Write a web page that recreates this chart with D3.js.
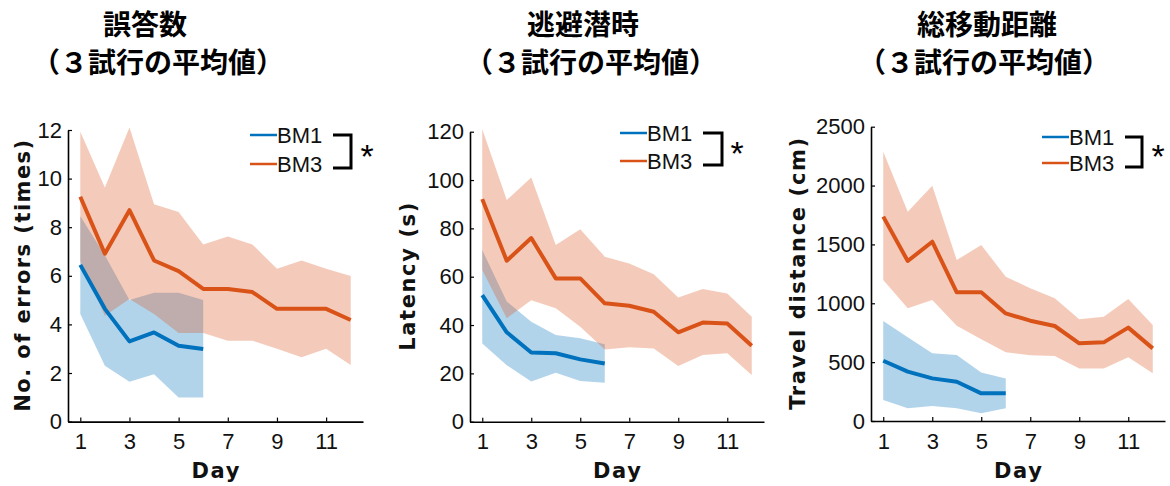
<!DOCTYPE html>
<html><head><meta charset="utf-8">
<script src="https://cdn.jsdelivr.net/npm/d3@7"></script>
<style>
html,body{margin:0;padding:0;background:#fff;}
svg{display:block;}
</style></head>
<body>
<svg id="chart" width="1170" height="486"></svg>
<script>
const days = [1,2,3,4,5,6,7,8,9,10,11,12];
const xTicks = [1,3,5,7,9,11];
const seriesNames = ["BM1","BM3"];
const titles1 = ["誤答数","逃避潜時","総移動距離"];
const titles2 = ["（３試行の平均値）","（３試行の平均値）","（３試行の平均値）"];
const yLabels = ["No. of errors (times)","Latency (s)","Travel distance (cm)"];
const xLabel = "Day";

// Panel 1: errors
const errTicks = [0,2,4,6,8,10,12];
const errBM1Mean  = [6.45,4.64,3.30,3.67,3.12,2.99];
const errBM1Upper = [8.45,6.85,5.00,5.30,5.30,5.00];
const errBM1Lower = [4.43,2.30,1.64,1.95,0.99,0.99];
const errBM3Mean  = [9.25,6.91,8.70,6.63,6.19,5.46,5.46,5.33,4.64,4.64,4.64,4.18];
const errBM3Upper = [11.93,9.63,12.10,8.94,8.63,7.29,7.62,7.29,6.29,6.63,6.29,5.99];
const errBM3Lower = [6.60,4.36,5.05,4.43,3.65,3.65,3.33,3.33,3.00,2.65,3.00,2.33];

// Panel 2: latency
const latTicks = [0,20,40,60,80,100,120];
const latBM1Mean  = [52.4,37.0,28.6,28.3,25.8,24.1];
const latBM1Upper = [71.0,49.7,41.4,35.9,34.5,32.1];
const latBM1Lower = [32.4,23.4,16.6,20.3,16.8,16.1];
const latBM3Mean  = [92.1,66.6,76.0,59.3,59.3,49.0,48.0,45.5,37.0,41.0,40.6,31.4];
const latBM3Upper = [121.0,91.7,101.0,73.1,79.6,68.3,65.5,61.0,51.4,54.9,53.1,43.4];
const latBM3Lower = [62.8,42.8,50.3,46.9,39.3,29.9,30.8,30.3,23.0,27.6,28.3,19.3];

// Panel 3: travel distance
const disTicks = [0,500,1000,1500,2000,2500];
const disBM1Mean  = [512,419,362,334,235,235];
const disBM1Upper = [849,711,575,561,411,362];
const disBM1Lower = [178,108,127,108,65,108];
const disBM3Mean  = [1736,1359,1523,1093,1093,914,852,807,660,668,793,617];
const disBM3Upper = [2288,1778,1999,1367,1495,1226,1127,1042,864,886,1036,815];
const disBM3Lower = [1198,957,1028,810,694,583,558,552,447,447,541,405];

const blue = "#0072BD", orange = "#D95319";

const panels = [
  {left:68, right:363, top:130, bottom:421.6, ymax:12, ticks:errTicks,
   m1:errBM1Mean,u1:errBM1Upper,l1:errBM1Lower,m3:errBM3Mean,u3:errBM3Upper,l3:errBM3Lower,
   t1x:145, t2x:158, ylx:30, legX:250, legY1:135, legY2:164, brX:333, brR:351, astX:367},
  {left:470, right:764, top:131.7, bottom:421.7, ymax:120, ticks:latTicks,
   m1:latBM1Mean,u1:latBM1Upper,l1:latBM1Lower,m3:latBM3Mean,u3:latBM3Upper,l3:latBM3Lower,
   t1x:583, t2x:591, ylx:415, legX:620, legY1:133, legY2:161, brX:703, brR:722, astX:737},
  {left:871, right:1165, top:126.7, bottom:421, ymax:2500, ticks:disTicks,
   m1:disBM1Mean,u1:disBM1Upper,l1:disBM1Lower,m3:disBM3Mean,u3:disBM3Upper,l3:disBM3Lower,
   t1x:987, t2x:984, ylx:805, legX:1042, legY1:137, legY2:163, brX:1125, brR:1142, astX:1158}
];

const svg = d3.select("#chart");
const tickFont = "'Liberation Sans', Arial, sans-serif";
const labFont = "'DejaVu Sans', sans-serif";
const cjk = "'Noto Sans CJK JP', 'Noto Sans CJK SC', sans-serif";

panels.forEach((p, i) => {
  const g = svg.append("g");
  const x = d3.scaleLinear().domain([0.5, 12.5]).range([p.left, p.right]);
  const y = d3.scaleLinear().domain([0, p.ymax]).range([p.bottom, p.top]);

  // titles
  g.append("text").attr("x", p.t1x).attr("y", 35).attr("text-anchor","middle")
    .style("font-family", cjk).style("font-weight", 700).style("font-size","28px").text(titles1[i]);
  g.append("text").attr("x", p.t2x).attr("y", 73).attr("text-anchor","middle")
    .style("font-family", cjk).style("font-weight", 700).style("font-size","28px").text(titles2[i]);

  const band = d3.area().x((d,j) => x(days[j])).y0(d => y(d[1])).y1(d => y(d[0]));
  const b1 = p.u1.map((u,j) => [u, p.l1[j]]);
  const b3 = p.u3.map((u,j) => [u, p.l3[j]]);
  g.append("path").attr("d", band(b1)).attr("fill", blue).attr("fill-opacity", 0.3);
  g.append("path").attr("d", band(b3)).attr("fill", orange).attr("fill-opacity", 0.3);

  const line = d3.line().x((d,j) => x(days[j])).y(d => y(d));
  g.append("path").attr("d", line(p.m3)).attr("fill","none").attr("stroke", orange)
    .attr("stroke-width", 4).attr("stroke-linejoin","round");
  g.append("path").attr("d", line(p.m1)).attr("fill","none").attr("stroke", blue)
    .attr("stroke-width", 4).attr("stroke-linejoin","round");

  // axes
  const ya = g.append("g").attr("transform", `translate(${p.left},0)`)
    .call(d3.axisLeft(y).tickValues(p.ticks).tickFormat(d3.format("d"))
      .tickSizeInner(-4).tickSizeOuter(0).tickPadding(6));
  const xa = g.append("g").attr("transform", `translate(0,${p.bottom})`)
    .call(d3.axisBottom(x).tickValues(xTicks).tickFormat(d3.format("d"))
      .tickSizeInner(-4).tickSizeOuter(0).tickPadding(12));
  [ya, xa].forEach(a => {
    a.select(".domain").attr("stroke","#000").attr("stroke-width",1.6);
    a.selectAll(".tick line").attr("stroke","#000").attr("stroke-width",1.2);
    a.selectAll("text").style("font-family", tickFont).style("font-size","22px").attr("fill","#111");
  });

  // axis labels
  const cx = (p.left + p.right) / 2;
  g.append("text").attr("x", cx).attr("y", 478).attr("text-anchor","middle")
    .style("font-family", labFont).style("font-weight",700).style("font-size","21px")
    .attr("textLength", 48).attr("lengthAdjust","spacing").attr("fill","#111").text(xLabel);
  const yc = (p.top + p.bottom) / 2;
  const ylen = [272, 148, 272][i];
  g.append("text").attr("transform", `translate(${p.ylx},${yc}) rotate(-90)`).attr("text-anchor","middle")
    .style("font-family", labFont).style("font-weight",700).style("font-size","21px")
    .attr("textLength", ylen).attr("lengthAdjust","spacing").attr("fill","#111").text(yLabels[i]);

  // legend
  const colors = [blue, orange];
  [p.legY1, p.legY2].forEach((ly, k) => {
    g.append("line").attr("x1", p.legX).attr("x2", p.legX + 27).attr("y1", ly).attr("y2", ly)
      .attr("stroke", colors[k]).attr("stroke-width", 2.5);
    g.append("text").attr("x", p.legX + 27).attr("y", ly + 8)
      .style("font-family", tickFont).style("font-size","22px").attr("fill","#111").text(seriesNames[k]);
  });
  g.append("path")
    .attr("d", `M${p.brX},${p.legY1} H${p.brR} V${p.legY2 + 4} H${p.brX}`)
    .attr("fill","none").attr("stroke","#000").attr("stroke-width",3);
  g.append("text").attr("x", p.astX).attr("y", (p.legY1 + p.legY2) / 2 + 18).attr("text-anchor","middle")
    .style("font-family", tickFont).style("font-size","34px").text("*");
});
</script>
</body></html>
